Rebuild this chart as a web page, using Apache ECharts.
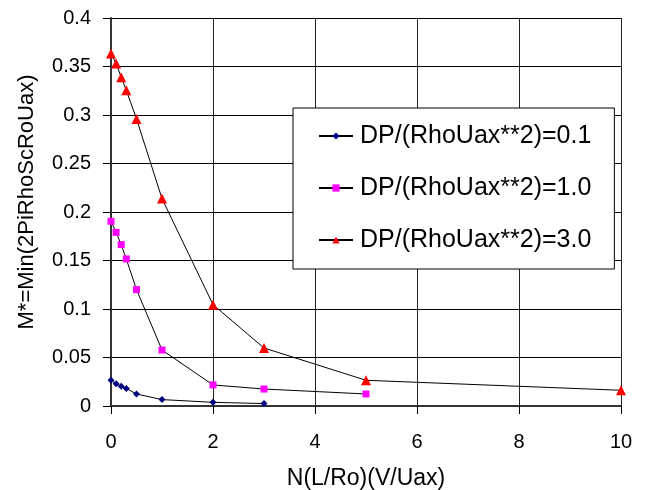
<!DOCTYPE html>
<html>
<head>
<meta charset="utf-8">
<title>M* vs N(L/Ro)(V/Uax)</title>
<script src="https://cdn.jsdelivr.net/npm/echarts@6/dist/echarts.min.js"></script>
<style>
  html, body { margin: 0; padding: 0; background: #fff; }
  #chart { width: 646px; height: 490px; }
</style>
</head>
<body>
<div id="chart"></div>
<script>
// Abscissa N(L/Ro)(V/Uax) for each pressure-ratio curve
const xLow  = [0, 0.1, 0.2, 0.3, 0.5, 1, 2, 3];
const xMid  = [0, 0.1, 0.2, 0.3, 0.5, 1, 2, 3, 5];
const xHigh = [0, 0.1, 0.2, 0.3, 0.5, 1, 2, 3, 5, 10];

// M* = Min(2PiRhoScRoUax)
const mLow  = [0.0265, 0.023, 0.0203, 0.018, 0.0124, 0.0066, 0.0038, 0.0025];
const mMid  = [0.1904, 0.179, 0.1664, 0.1516, 0.120, 0.0577, 0.0217, 0.0175, 0.0124];
const mHigh = [0.3633, 0.353, 0.339, 0.3255, 0.296, 0.2138, 0.1045, 0.0598, 0.0265, 0.0162];

const seriesNames = ['DP/(RhoUax**2)=0.1', 'DP/(RhoUax**2)=1.0', 'DP/(RhoUax**2)=3.0'];
const yTickLabels = ['0', '0.05', '0.1', '0.15', '0.2', '0.25', '0.3', '0.35', '0.4'];

const pairs = (xs, ys) => xs.map((x, i) => [x, ys[i]]);
const FONT = 'Liberation Sans, Arial, sans-serif';

const chart = echarts.init(document.getElementById('chart'), null, { renderer: 'canvas' });

function makeSeries(name, data, symbol, size, color) {
  return {
    name: name,
    type: 'line',
    data: data,
    symbol: symbol,
    symbolSize: size,
    showAllSymbol: true,
    lineStyle: { color: '#000', width: 1 },
    itemStyle: { color: color, borderWidth: 0 },
    emphasis: { disabled: true },
    animation: false,
    z: 3
  };
}

chart.setOption({
  backgroundColor: '#fff',
  animation: false,
  textStyle: { fontFamily: FONT, color: '#000' },
  grid: { left: 111, right: 25, top: 18, bottom: 84, containLabel: false, outerBoundsMode: 'none' },
  legend: {
    orient: 'vertical',
    left: 293,
    top: 108,
    padding: [14, 23, 15, 25],
    itemGap: 24,
    itemWidth: 34,
    itemHeight: 9,
    borderColor: '#000',
    borderWidth: 1,
    backgroundColor: '#fff',
    textStyle: { fontFamily: FONT, fontSize: 25, color: '#000', lineHeight: 28, padding: [0, 0, 0, 2] },
    data: seriesNames
  },
  xAxis: {
    type: 'value',
    min: 0,
    max: 10,
    interval: 2,
    name: 'N(L/Ro)(V/Uax)',
    nameLocation: 'middle',
    nameGap: 61,
    nameTextStyle: { fontFamily: FONT, fontSize: 23, color: '#000' },
    axisLine: { show: true, onZero: false, lineStyle: { color: '#333', width: 2 } },
    axisTick: { show: true, inside: false, length: 8, lineStyle: { color: '#000' } },
    axisLabel: { fontFamily: FONT, fontSize: 20, color: '#000', margin: 26 },
    splitLine: { show: true, lineStyle: { color: '#222', width: 1 } }
  },
  yAxis: {
    type: 'value',
    min: 0,
    max: 0.4,
    interval: 0.05,
    name: 'M*=Min(2PiRhoScRoUax)',
    nameLocation: 'middle',
    nameGap: 73,
    nameTextStyle: { fontFamily: FONT, fontSize: 22, color: '#000', padding: [0, 0, 0, 20] },
    axisLine: { show: true, onZero: false, lineStyle: { color: '#333', width: 2 } },
    axisTick: { show: true, inside: false, length: 8, lineStyle: { color: '#000' } },
    axisLabel: {
      fontFamily: FONT, fontSize: 20, color: '#000', margin: 20,
      formatter: (v) => yTickLabels[Math.round(v / 0.05)]
    },
    splitLine: { show: true, lineStyle: { color: '#000', width: 1 } }
  },
  series: [
    makeSeries(seriesNames[0], pairs(xLow, mLow), 'diamond', 7, '#000080'),
    makeSeries(seriesNames[1], pairs(xMid, mMid), 'rect', 7, '#ff00ff'),
    makeSeries(seriesNames[2], pairs(xHigh, mHigh), 'triangle', 10, '#ff0000')
  ]
});
</script>
</body>
</html>
